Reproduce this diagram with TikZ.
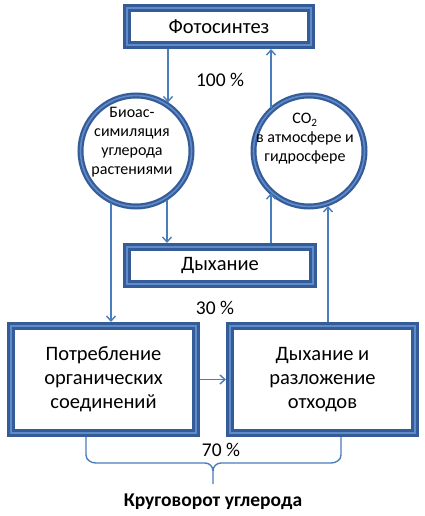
\documentclass[tikz,border=0pt]{standalone}
\usepackage{fontspec}
\setmainfont{Carlito}
\usetikzlibrary{arrows.meta}
\definecolor{bdark}{HTML}{365C98}
\definecolor{blight}{HTML}{5E8BCB}
\definecolor{arrc}{HTML}{4A7EBB}
\begin{document}
\begin{tikzpicture}[x=1pt,y=-1pt,
 boxnode/.style={draw=bdark, line width=2.75pt, double=blight, double distance=2.5pt, fill=white, inner sep=0pt, outer sep=4pt, align=center, font=\fontsize{20.5}{24}\selectfont},
 circnode/.style={circle, draw=bdark, line width=2.2pt, double=blight, double distance=1.6pt, minimum size=111pt, inner sep=0pt, outer sep=3pt},
 ctext/.style={align=center, inner sep=0pt, font=\fontsize{16}{19}\selectfont},
 arr/.style={draw=arrc, line width=1.4pt, -{Straight Barb[length=5pt,width=9pt]}},
 conn/.style={draw=arrc, line width=1.4pt},
 lbl/.style={font=\fontsize{19.5}{22}\selectfont, inner sep=0pt}]
\useasboundingbox (0,0) rectangle (424,516);
% boxes
\node[boxnode, minimum width=184pt, minimum height=37pt] (foto) at (219,26.5) {Фотосинтез};
\node[boxnode, minimum width=186pt, minimum height=37pt] (dyh) at (220,265.5) {Дыхание};
\node[boxnode, minimum width=185pt, minimum height=107pt] (lbox) at (103.5,379.5) {Потребление\\органических\\соединений};
\node[boxnode, minimum width=185pt, minimum height=107pt] (rbox) at (322.5,379.5) {Дыхание и\\разложение\\отходов};
% circles
\node[circnode] (lc) at (136,151) {};
\node[ctext] (lct) at (132,142) {Биоас-\\симиляция\\углерода\\растениями};
\node[circnode] (rc) at (309,151) {};
\node[ctext] (rct) at (305,139) {CO\textsubscript{2}\\в атмосфере и\\гидросфере};
% connectors
\draw[arr] (168,0 |- foto.south) -- (168,0 |- lc.56);
\draw[arr] (271,0 |- rc.133.7) -- (271,0 |- foto.south);
\draw[arr] (111,0 |- lc.243.5) -- (111,0 |- lbox.north);
\draw[arr] (167,0 |- lc.303.6) -- (167,0 |- dyh.north);
\draw[arr] (271,0 |- dyh.north) -- (271,0 |- rc.226.3);
\draw[arr] (328,0 |- rbox.north) -- (328,0 |- rc.290.2);
\draw[arr] (lbox.east) -- (rbox.west);
% brace
\draw[conn] (86,0 |- lbox.south) -- (86,455) to[out=-90,in=180] (96,463) -- (205,463) to[out=0,in=90] (213,471) -- (213,484);
\draw[conn] (213,471) to[out=90,in=180] (221,463) -- (331,463) to[out=0,in=-90] (341,455) -- (341,0 |- rbox.south);
% labels
\node[lbl] (p100) at (220,80) {100 \%};
\node[lbl] (p30) at (215,308) {30 \%};
\node[lbl] (p70) at (221,450) {70 \%};
\node[lbl, font=\fontsize{19.5}{22}\selectfont\bfseries] (title) at (213,502) {Круговорот углерода};
\end{tikzpicture}
\end{document}
